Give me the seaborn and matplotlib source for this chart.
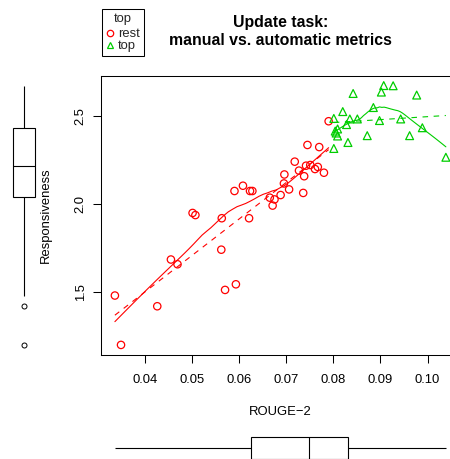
import numpy as np
import pandas as pd
import matplotlib
matplotlib.use("Agg")
import matplotlib.pyplot as plt
from matplotlib.lines import Line2D
import seaborn as sns

sns.set_theme(style="ticks")
plt.rcParams['font.family'] = ['Liberation Sans', 'DejaVu Sans']

# ROUGE-2 / Responsiveness
rest_x = [0.0336, 0.0349, 0.0426, 0.0455, 0.0469, 0.0501, 0.0507, 0.0563, 0.0562,
          0.0570, 0.0593, 0.0590, 0.0608, 0.0623, 0.0628, 0.0621, 0.0665, 0.0675,
          0.0671, 0.0688, 0.0696, 0.0695, 0.0706, 0.0718, 0.0727, 0.0738, 0.0736,
          0.0742, 0.0751, 0.0761, 0.0767, 0.0780, 0.0745, 0.0770, 0.0790]
rest_y = [1.479, 1.198, 1.418, 1.684, 1.657, 1.949, 1.937, 1.919, 1.740,
          1.511, 1.543, 2.074, 2.104, 2.074, 2.074, 1.919, 2.036, 2.026,
          1.991, 2.051, 2.168, 2.117, 2.083, 2.241, 2.190, 2.158, 2.063,
          2.218, 2.222, 2.199, 2.211, 2.178, 2.336, 2.324, 2.471]
top_x = [0.0801, 0.0820, 0.0842, 0.0835, 0.0851, 0.0828, 0.0804, 0.0809, 0.0806,
         0.0809, 0.0831, 0.0801, 0.0872, 0.0885, 0.0898, 0.0907, 0.0902, 0.0927,
         0.0943, 0.0962, 0.0977, 0.0989, 0.1039]
top_y = [2.487, 2.526, 2.629, 2.484, 2.484, 2.452, 2.415, 2.427, 2.404,
         2.387, 2.350, 2.316, 2.389, 2.549, 2.475, 2.674, 2.637, 2.673,
         2.484, 2.389, 2.620, 2.434, 2.266]

groups = ["rest", "top"]
colors = {"rest": "#FF0000", "top": "#00CD00"}
markers = {"rest": "o", "top": "^"}
x_ticks = [0.04, 0.05, 0.06, 0.07, 0.08, 0.09, 0.10]
y_ticks = [1.5, 2.0, 2.5]

df = pd.DataFrame({
    "ROUGE-2": rest_x + top_x,
    "Responsiveness": rest_y + top_y,
    "group": ["rest"] * len(rest_x) + ["top"] * len(top_x),
})


def loess(x, y, grid, span=2/3, iters=4):
    # local linear fit, tricube weights, robust (symmetric) reweighting
    x = np.asarray(x); y = np.asarray(y)
    n = len(x)
    k = max(int(np.floor(span * n)), 3)
    rob = np.ones(n)

    def fit_at(x0, r):
        d = np.abs(x - x0)
        h = np.sort(d)[k - 1] * 1.0001
        w = np.clip(1 - (d / h) ** 3, 0, None) ** 3 * r
        sw = w.sum()
        xm = (w * x).sum() / sw
        ym = (w * y).sum() / sw
        sxx = (w * (x - xm) ** 2).sum()
        b = (w * (x - xm) * (y - ym)).sum() / sxx if sxx > 0 else 0.0
        return ym + b * (x0 - xm)

    for _ in range(iters):
        fitted = np.array([fit_at(xi, rob) for xi in x])
        res = y - fitted
        s = np.median(np.abs(res))
        if s == 0:
            break
        rob = np.clip(1 - (res / (6 * s)) ** 2, 0, None) ** 2
    return np.array([fit_at(g, rob) for g in grid])


W, H = 450, 459
fig = plt.figure(figsize=(4.5, 4.59), dpi=100)

# main scatter panel (right edge runs past the image, like the reference)
ax = fig.add_axes([101 / W, 1 - 355 / H, (460 - 101) / W, (355 - 76) / H])
axl = fig.add_axes([3 / W, 1 - 355 / H, 42 / W, (355 - 76) / H], sharey=ax)
axb = fig.add_axes([101 / W, 1 - 469.3 / H, (460 - 101) / W, 42 / H], sharex=ax)

for g in groups:
    sub = df[df["group"] == g]
    c = colors[g]
    sns.scatterplot(data=sub, x="ROUGE-2", y="Responsiveness", ax=ax, color=c,
                    marker=markers[g], facecolors="none", edgecolor=c,
                    linewidth=0.9, s=28 if g == "rest" else 32, legend=False)
    sns.regplot(data=sub, x="ROUGE-2", y="Responsiveness", ax=ax, scatter=False,
                ci=None, truncate=True, color=c,
                line_kws={"lw": 0.8, "dashes": (5, 5)})
    grid = np.linspace(sub["ROUGE-2"].min(), sub["ROUGE-2"].max(), 50)
    smooth = loess(sub["ROUGE-2"], sub["Responsiveness"], grid)
    sns.lineplot(x=grid, y=smooth, ax=ax, color=c, lw=0.8, sort=False,
                 estimator=None)

ax.set_xlim(0.03065, 0.1069)
ax.set_ylim(1.1406, 2.7285)
ax.set_xticks(x_ticks)
ax.set_xticklabels([f"{t:.2f}" for t in x_ticks])
ax.set_yticks(y_ticks)
ax.set_yticklabels([f"{t:.1f}" for t in y_ticks])
ax.tick_params(axis="both", direction="out", length=5.8, width=0.75,
               color="black", labelcolor="black", labelsize=9.4)
ax.tick_params(axis="x", pad=8)
ax.tick_params(axis="y", pad=4.4)
plt.setp(ax.get_yticklabels(), rotation=90, va="center")
for sp in ax.spines.values():
    sp.set_visible(True)
    sp.set_linewidth(0.75)
    sp.set_color("black")

ax.set_xlabel("ROUGE\u22122", fontsize=9.4, color="black", va="center")
ax.xaxis.set_label_coords(0.5, -(411.7 - 355) / 279)
ax.set_ylabel("Responsiveness", fontsize=9.4, color="black", va="center")
ax.yaxis.set_label_coords(-(101 - 46) / 359, 0.5)

ax.set_title("Update task:\nmanual vs. automatic metrics", fontsize=11.45,
             fontweight="bold", color="black", linespacing=1.22, pad=22.4)

# marginal boxplots
box_kw = dict(color="white", linecolor="black", linewidth=0.8, width=0.53,
              showcaps=False,
              flierprops=dict(marker="o", markersize=3.6, markerfacecolor="none",
                              markeredgecolor="black", markeredgewidth=0.7))
sns.boxplot(y=df["Responsiveness"], ax=axl, **box_kw)
sns.boxplot(x=df["ROUGE-2"], ax=axb, orient="h", **box_kw)
for a in (axl, axb):
    a.set_axis_off()
axl.set_xlim(-0.5, 0.5)
axb.set_ylim(0.5, -0.5)

# legend above the plot, left
handles = [Line2D([], [], ls="none", marker=markers[g], mfc="none",
                  mec=colors[g], mew=0.9, ms=4.6) for g in groups]
leg = fig.legend(handles, groups, title="top", loc="upper left",
                 bbox_to_anchor=(101.7 / W, 1 - 9.3 / H), fontsize=9.4,
                 title_fontsize=9.4, frameon=True, fancybox=False,
                 framealpha=1, edgecolor="black", borderpad=0.32,
                 labelspacing=-0.02, handlelength=0.6, handletextpad=0.32,
                 borderaxespad=0)
leg._legend_box.sep = 2
leg.get_frame().set_linewidth(0.75)

fig.savefig("out.png", dpi=100)
